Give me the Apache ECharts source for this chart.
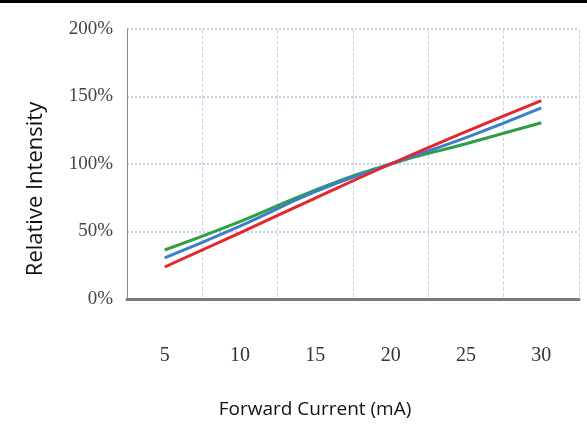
<!DOCTYPE html>
<html><head><meta charset="utf-8">
<script src="https://cdn.jsdelivr.net/npm/echarts@6/dist/echarts.min.js"></script>
<style>html,body{margin:0;padding:0;background:#fff}#c{width:587px;height:428px}</style>
</head><body><div id="c"></div>
<script>
const categories = ['5', '10', '15', '20', '25', '30'];
const redValues = [23.7, 49, 74.8, 100, 124, 147];
const blueValues = [30.4, 54, 79.5, 100, 119.5, 141.5];
const greenValues = [36.3, 57.3, 80.7, 100, 115, 130.6];
const yTicks = { min: 0, max: 200, interval: 50 };

const chart = echarts.init(document.getElementById('c'), null, { renderer: 'canvas' });
const serif = '"Liberation Serif", "DejaVu Serif", serif';
const sans = '"Open Sans", "Noto Sans", sans-serif';
function line(name, data, color) {
  return { name, type: 'line', data, smooth: true, symbol: 'none',
    lineStyle: { color, width: 3 }, itemStyle: { color } };
}
chart.setOption({
  animation: false,
  backgroundColor: '#fff',
  grid: { left: 127, right: 8, top: 29, bottom: 129, containLabel: false },
  xAxis: {
    type: 'category', data: categories, boundaryGap: true,
    axisLine: { lineStyle: { color: '#7a7a7a', width: 3 } },
    axisTick: { show: false },
    axisLabel: { margin: 47, fontFamily: serif, fontSize: 20, color: '#333' },
    splitLine: { show: true, lineStyle: { color: '#c9d6e8', type: 'dashed', width: 1 } }
  },
  yAxis: {
    type: 'value', min: yTicks.min, max: yTicks.max, interval: yTicks.interval,
    axisLine: { show: true, lineStyle: { color: '#8a8a8a', width: 1 } },
    axisTick: { show: false },
    axisLabel: { formatter: '{value}%', margin: 14, fontFamily: serif, fontSize: 19, color: '#444' },
    splitLine: { show: true, lineStyle: { color: '#c2d0e4', type: 'dotted', width: 2 } }
  },
  series: [
    line('Green', greenValues, '#2e9e47'),
    line('Blue', blueValues, '#3d7fc6'),
    line('Red', redValues, '#e5262b')
  ],
  graphic: [
    { type: 'rect', left: 0, top: 0, shape: { width: 587, height: 3 }, style: { fill: '#000' } },
    { type: 'text', x: 36, y: 189, rotation: Math.PI / 2,
      style: { text: 'Relative Intensity', fontFamily: sans, fontSize: 22,
        fill: '#111', textAlign: 'center', textVerticalAlign: 'middle' } },
    { type: 'text', x: 315, y: 410,
      style: { text: 'Forward Current (mA)', fontFamily: sans, fontSize: 19,
        fill: '#111', textAlign: 'center', textVerticalAlign: 'middle' } }
  ]
});
</script></body></html>
